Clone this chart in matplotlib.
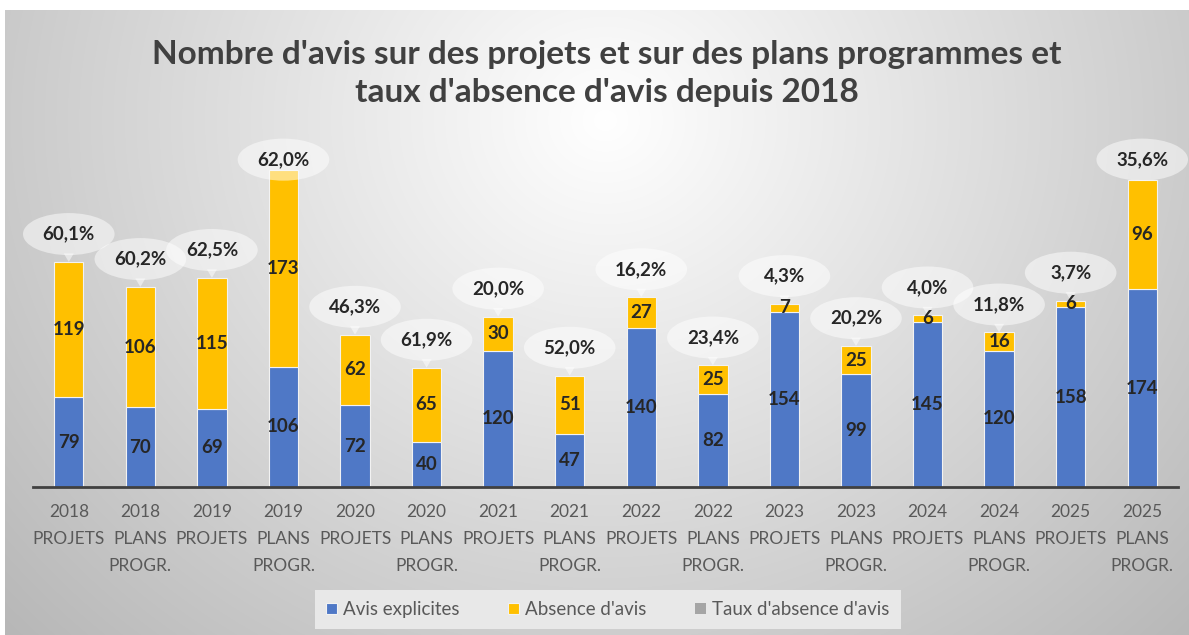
import numpy as np
import matplotlib.pyplot as plt
from matplotlib.patches import Ellipse, Polygon

categories = ["2018\nPROJETS", "2018\nPLANS\nPROGR.", "2019\nPROJETS", "2019\nPLANS\nPROGR.",
              "2020\nPROJETS", "2020\nPLANS\nPROGR.", "2021\nPROJETS", "2021\nPLANS\nPROGR.",
              "2022\nPROJETS", "2022\nPLANS\nPROGR.", "2023\nPROJETS", "2023\nPLANS\nPROGR.",
              "2024\nPROJETS", "2024\nPLANS\nPROGR.", "2025\nPROJETS", "2025\nPLANS\nPROGR."]
avis_explicites = [79, 70, 69, 106, 72, 40, 120, 47, 140, 82, 154, 99, 145, 120, 158, 174]
absence_avis = [119, 106, 115, 173, 62, 65, 30, 51, 27, 25, 7, 25, 6, 16, 6, 96]
taux_absence = [60.1, 60.2, 62.5, 62.0, 46.3, 61.9, 20.0, 52.0, 16.2, 23.4, 4.3, 20.2, 4.0, 11.8, 3.7, 35.6]

BLUE = "#4f78c6"
YELLOW = "#ffc000"
GREY = "#a5a5a5"
plt.rcParams['font.family'] = ['Lato', 'DejaVu Sans']

fig = plt.figure(figsize=(11.89, 6.35), dpi=100)

# background gradient
bg = fig.add_axes([5 / 1189, 0, 1 - 5 / 1189, 625 / 635])
yy, xx = np.mgrid[0:625, 0:1184]
d = np.hypot(xx - 600, (yy - 110) * 1.1) / 700.0
shade = 1 - 0.24 * np.clip(d, 0, 1.2)
bg.imshow(np.dstack([shade] * 3), aspect="auto", extent=[0, 1, 0, 1])
bg.axis("off")

ax = fig.add_axes([33 / 1189, 148 / 635, 1145 / 1189, 341 / 635])
ax.patch.set_alpha(0)
x = np.arange(len(categories))
blue = np.array(avis_explicites)
yellow = np.array(absence_avis)
taux = np.array(taux_absence)
total = blue + yellow

ax.bar(x, blue, 0.41, color=BLUE, edgecolor="#f2f2f2", linewidth=0.8, label="Avis explicites", zorder=2)
ax.bar(x, yellow, 0.41, bottom=blue, color=YELLOW, edgecolor="#f2f2f2", linewidth=0.8,
       label="Absence d'avis", zorder=2)
# the rate series is tiny on the count scale; keep it under the bars
ax.bar(x, taux / 100, 0.41, color=GREY, linewidth=0,
       label="Taux d'absence d'avis", zorder=1)

for i in range(len(x)):
    ax.text(x[i], blue[i] / 2, str(blue[i]), ha="center", va="center",
            fontsize=13.5, fontweight="bold", color="#262626", zorder=4)
    ax.text(x[i], blue[i] + yellow[i] / 2, str(yellow[i]), ha="center", va="center",
            fontsize=13.5, fontweight="bold", color="#262626", zorder=4)
    ly = min(total[i] + 24.5, 288)
    ax.add_patch(Ellipse((x[i], ly), 1.28, 37, facecolor="white", alpha=0.5,
                         edgecolor="none", zorder=3, clip_on=False))
    if ly - 18 > total[i]:
        ax.add_patch(Polygon([(x[i] - 0.07, ly - 17), (x[i] + 0.07, ly - 17), (x[i], total[i])],
                             facecolor="white", alpha=0.5, edgecolor="none", zorder=3))
    ax.text(x[i], ly, ("%.1f%%" % taux[i]).replace(".", ","), ha="center", va="center",
            fontsize=13.5, fontweight="bold", color="#262626", zorder=4, clip_on=False)

ax.set_xlim(-0.5, len(x) - 0.5)
ax.set_ylim(0, 300)
ax.set_xticks(x)
ax.set_xticklabels(categories, fontsize=12.5, color="#595959", linespacing=1.85)
ax.tick_params(axis="x", length=0, pad=12)
ax.set_yticks([])
for s in ["top", "right", "left"]:
    ax.spines[s].set_visible(False)
ax.spines["bottom"].set_color("#404040")
ax.spines["bottom"].set_linewidth(2)

fig.text(0.51, 0.884, "Nombre d'avis sur des projets et sur des plans programmes et\ntaux d'absence d'avis depuis 2018",
         ha="center", va="center", fontsize=24, fontweight="bold", color="#404040", linespacing=1.4)

leg = fig.legend(loc="center", bbox_to_anchor=(0.511, 0.04), ncol=3, fontsize=13.5,
                 frameon=True, fancybox=False, handlelength=0.6, handleheight=0.6,
                 handletextpad=0.3, columnspacing=2.6, borderpad=0.6)
leg.get_frame().set_facecolor("#e8e8e8")
leg.get_frame().set_edgecolor("none")
leg.get_frame().set_alpha(1)
for t in leg.get_texts():
    t.set_color("#595959")

fig.savefig("out.png", dpi=100)
